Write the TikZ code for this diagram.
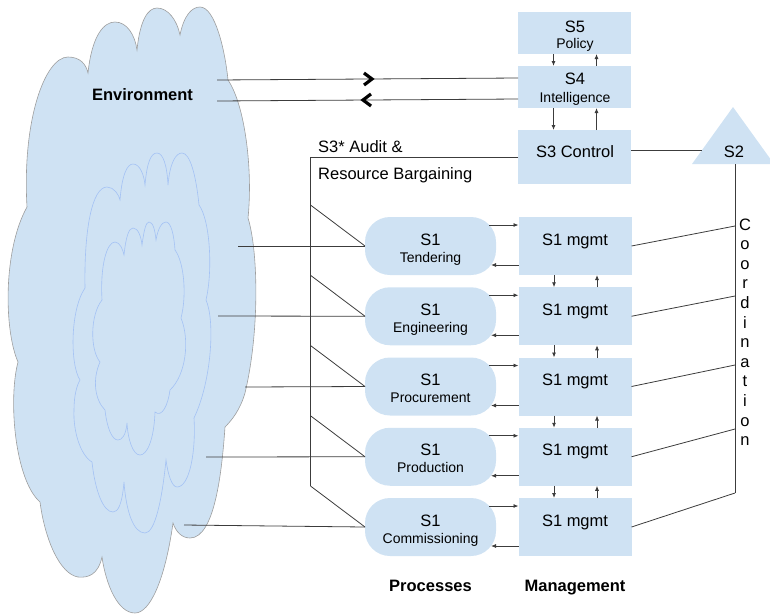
\documentclass[tikz,border=0pt]{standalone}
\usepackage{fontspec}
\setmainfont{Liberation Sans}
\usetikzlibrary{arrows.meta,decorations.markings,calc}
\definecolor{boxfill}{HTML}{CFE2F3}
\definecolor{cloudedge}{HTML}{9E9E9E}
\definecolor{puffedge}{HTML}{A4C2F4}
\definecolor{linec}{HTML}{3C3C3C}

\begin{document}
\begin{tikzpicture}[x=1pt,y=-1pt,
  box/.style={fill=boxfill, draw=none, minimum width=113, inner sep=0, outer sep=0},
  procbox/.style={fill=boxfill, draw=none, rounded corners=25, minimum width=131, minimum height=58, inner sep=0, outer sep=0},
  conn/.style={draw=linec, line width=0.8pt},
  arr/.style={conn, -{Latex[length=5pt,width=4pt]}},
  big/.style={font=\fontsize{16.5}{18}\selectfont},
  small/.style={font=\fontsize{14}{16}\selectfont},
  bold/.style={font=\fontsize{16.5}{18}\selectfont\bfseries},
  puff/.style={draw=puffedge, fill=boxfill, line width=0.6pt},
  chevron/.style={postaction={decorate}, decoration={markings,
    mark=at position 0.5 with {\draw[draw=black, line width=3.2pt, miter limit=4] (-3.5pt,-6pt) -- (4.5pt,0pt) -- (-3.5pt,6pt);}}}
]
\useasboundingbox (0,0) rectangle (770,614);
\clip (0,0) rectangle (770,614);

% environment cloud
\path[fill=boxfill, draw=cloudedge, line width=0.6pt] (27,207)
  .. controls (22,120) and (45,57) .. (68,57) .. controls (80,57) and (86,64) .. (88,73)
  .. controls (92,35) and (104,22) .. (115,22) .. controls (127,22) and (135,35) .. (137,50)
  .. controls (140,20) and (148,8) .. (157,8) .. controls (168,8) and (177,20) .. (180,35)
  .. controls (184,15) and (192,7) .. (200,7) .. controls (215,7) and (225,50) .. (228,80)
  .. controls (245,105) and (253,170) .. (248,218)
  .. controls (258,250) and (260,330) .. (245,393) .. controls (240,410) and (232,420) .. (225,427)
  .. controls (222,470) and (215,538) .. (190,538) .. controls (182,538) and (176,532) .. (173,523)
  .. controls (165,580) and (150,613) .. (135,613) .. controls (118,613) and (106,585) .. (102,557)
  .. controls (98,575) and (88,578) .. (78,577) .. controls (60,574) and (45,540) .. (40,502)
  .. controls (15,480) and (8,400) .. (18,362)
  .. controls (4,330) and (3,250) .. (27,207) -- cycle;

% nested inner clouds
\path[puff] (85,288)
  .. controls (84,230) and (92,187) .. (107,187) .. controls (114,187) and (119,195) .. (120,200)
  .. controls (122,175) and (127,164) .. (133,164) .. controls (140,164) and (144,175) .. (145,185)
  .. controls (147,162) and (151,153) .. (157,153) .. controls (163,153) and (167,165) .. (168,185)
  .. controls (170,162) and (176,153) .. (182,153) .. controls (190,153) and (196,175) .. (199,205)
  .. controls (210,220) and (213,270) .. (206,300)
  .. controls (215,320) and (212,380) .. (194,418)
  .. controls (196,450) and (190,487) .. (177,487) .. controls (172,487) and (168,475) .. (166,460)
  .. controls (162,500) and (155,533) .. (145,533) .. controls (133,533) and (126,510) .. (124,482)
  .. controls (122,505) and (118,512) .. (113,512) .. controls (103,512) and (95,490) .. (92,462)
  .. controls (80,455) and (73,430) .. (74,410) .. controls (74,395) and (77,385) .. (80,380)
  .. controls (70,365) and (70,310) .. (85,288) -- cycle;
\path[puff] (102,300)
  .. controls (100,265) and (107,242) .. (115,242) .. controls (120,242) and (123,250) .. (124,255)
  .. controls (126,236) and (129,228) .. (133,228) .. controls (138,228) and (141,236) .. (142,245)
  .. controls (144,230) and (146,222) .. (149,222) .. controls (153,222) and (155,230) .. (156,240)
  .. controls (158,228) and (162,222) .. (166,222) .. controls (171,222) and (174,235) .. (175,250)
  .. controls (184,262) and (187,295) .. (181,318)
  .. controls (190,340) and (186,375) .. (170,390)
  .. controls (168,405) and (162,418) .. (155,412)
  .. controls (154,440) and (147,455) .. (140,455) .. controls (133,455) and (128,440) .. (127,423)
  .. controls (126,435) and (122,440) .. (118,440) .. controls (112,440) and (107,428) .. (105,410)
  .. controls (95,400) and (92,380) .. (100,362)
  .. controls (90,350) and (90,315) .. (102,300) -- cycle;
\node[bold, anchor=base] (envlabel) at (142.5,100) {Environment};

% system 5, 4, 3 and 2
\node[box, minimum height=42] (s5) at (574.5,33) {};
\node[box, minimum height=42] (s4) at (574.5,87) {};
\node[box, minimum height=54] (s3) at (574.5,157) {};
\node[big, anchor=base] (s5a) at (575,32) {S5};
\node[small, anchor=base] (s5b) at (575,48) {Policy};
\node[big, anchor=base] (s4a) at (575,84) {S4};
\node[small, anchor=base] (s4b) at (575,102) {Intelligence};
\node[big, anchor=base] (s3a) at (575,157) {S3 Control};

\coordinate (s2top) at (733,107);
\coordinate (s2left) at (692,164);
\coordinate (s2right) at (774,164);
\coordinate (s2bot) at (735,164);
\fill[boxfill] (s2top) -- (s2right) -- (s2left) -- cycle;
\node[big, anchor=base] (s2) at (734,157) {S2};
\coordinate (s2in) at (702,150);

\draw[arr] ([xshift=-21pt]s5.south) -- ([xshift=-21pt]s4.north);
\draw[arr] ([xshift=22pt]s4.north) -- ([xshift=22pt]s5.south);
\draw[arr] ([xshift=-21pt]s4.south) -- ([xshift=-21pt]s3.north);
\draw[arr] ([xshift=22pt]s3.north) -- ([xshift=22pt]s4.south);
\draw[conn] ([shift={(0,-7)}]s3.east) -- (s2in);

% environment exchange with system 4
\coordinate (env1) at (217,80);
\coordinate (env2) at (217,101);
\draw[conn, chevron] (env1) -- ([shift={(0,12)}]s4.north west);
\draw[conn, chevron] ([shift={(0,33)}]s4.north west) -- (env2);

% audit channel labels
\node[big, anchor=base west, inner sep=0] (audit1) at (318,152) {S3* Audit \&};
\node[big, anchor=base west, inner sep=0] (audit2) at (318,179) {Resource Bargaining};

% cloud anchors, audit taps and coordination taps
\coordinate (e1) at (238,246);
\coordinate (e2) at (218,316);
\coordinate (e3) at (245,387);
\coordinate (e4) at (206,457);
\coordinate (e5) at (184,525);
\coordinate (c1) at (735,226);
\coordinate (c2) at (735,296);
\coordinate (c3) at (735,365);
\coordinate (c4) at (735,429);
\coordinate (c5) at (735,493);
\coordinate (atop) at (310.5,157);

% operational rows
\foreach \i/\name in {1/Tendering,2/Engineering,3/Procurement,4/Production,5/Commissioning} {
  \pgfmathsetmacro{\t}{217+70.25*(\i-1)}
  \node[box, minimum height=58, anchor=north] (m\i) at (575,\t) {};
  \node[procbox, anchor=north] (p\i) at (430.5,\t) {};
  \node[big, anchor=base] (ml\i) at (575,\t+28) {S1 mgmt};
  \node[big, anchor=base] (pa\i) at (430.5,\t+28) {S1};
  \node[small, anchor=base] (pb\i) at (430.5,\t+45) {\name};
  \coordinate (a\i) at (310.5,\t+29-41);
  \draw[arr] ([shift={(-7,8)}]p\i.north east) -- ([shift={(0,8)}]m\i.north west);
  \draw[arr] ([shift={(0,48)}]m\i.north west) -- ([shift={(-5,48)}]p\i.north east);
  \draw[conn] (e\i) -- (p\i.west);
  \draw[conn] (a\i) -- (p\i.west);
  \draw[conn] (m\i.east) -- (c\i);
}
\foreach \i [evaluate=\i as \j using int(\i+1)] in {1,2,3,4} {
  \draw[arr] ([xshift=-21pt]m\i.south) -- ([xshift=-21pt]m\j.north);
  \draw[arr] ([xshift=22pt]m\j.north) -- ([xshift=22pt]m\i.south);
}

\draw[conn] (s3.west) -- (atop) -- (a5);
\draw[conn] (s2bot) -- (c5);

% coordination channel label
\foreach \l [count=\k from 0] in {C,o,o,r,d,i,n,a,t,i,o,n}
  \node[big, anchor=base] (co\k) at (745,230+19.6*\k) {\l};

% column headings
\node[bold, anchor=base] (hproc) at (430.5,591) {Processes};
\node[bold, anchor=base] (hmgmt) at (575,591) {Management};
\end{tikzpicture}
\end{document}
